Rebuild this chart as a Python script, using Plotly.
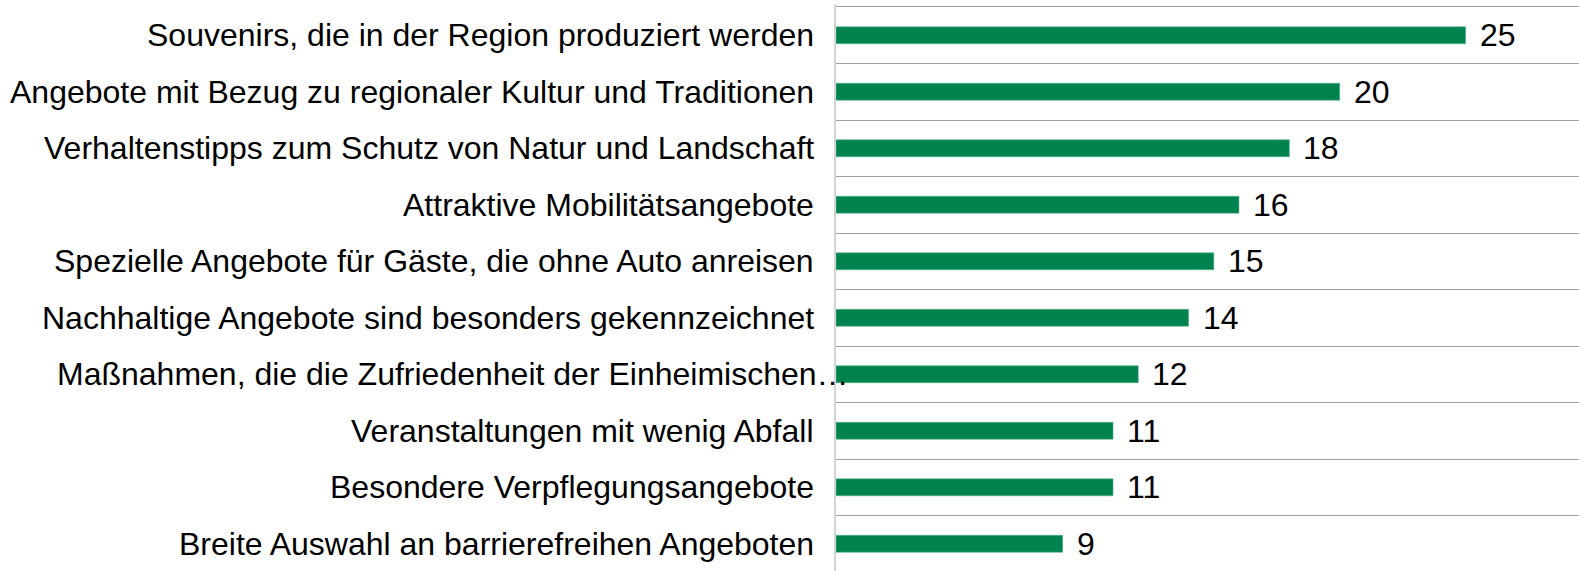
import plotly.graph_objects as go

categories = [
    "Souvenirs, die in der Region produziert werden",
    "Angebote mit Bezug zu regionaler Kultur und Traditionen",
    "Verhaltenstipps zum Schutz von Natur und Landschaft",
    "Attraktive Mobilitätsangebote",
    "Spezielle Angebote für Gäste, die ohne Auto anreisen",
    "Nachhaltige Angebote sind besonders gekennzeichnet",
    "Maßnahmen, die die Zufriedenheit der Einheimischen…",
    "Veranstaltungen mit wenig Abfall",
    "Besondere Verpflegungsangebote",
    "Breite Auswahl an barrierefreihen Angeboten",
]
values = [25, 20, 18, 16, 15, 14, 12, 11, 11, 9]

positions = list(range(len(categories)))
boundaries = [p - 0.5 for p in positions] + [len(categories) - 0.5]

FONT = "Liberation Sans, Arial, sans-serif"
GREEN = "#00834F"

fig = go.Figure()
fig.add_trace(go.Bar(
    x=values,
    y=positions,
    orientation="h",
    width=0.3,
    marker=dict(color=GREEN, line=dict(color="#5BB58C", width=0.6)),
    hoverinfo="skip",
))

annotations = []
for p, cat in zip(positions, categories):
    truncated = cat.endswith("…")
    annotations.append(dict(
        x=0, xref="paper", y=p, yref="y",
        text=cat, showarrow=False,
        xanchor="right", yanchor="middle",
        xshift=15 if truncated else -20,
        font=dict(family=FONT, size=32, color="#000000"),
    ))
for p, v in zip(positions, values):
    annotations.append(dict(
        x=v, xref="x", y=p, yref="y",
        text=str(v), showarrow=False,
        xanchor="left", yanchor="middle",
        xshift=12,
        font=dict(family=FONT, size=32, color="#000000"),
    ))

fig.update_layout(
    width=1579, height=571,
    margin=dict(l=836, r=0, t=4, b=0, autoexpand=False),
    paper_bgcolor="white", plot_bgcolor="white",
    showlegend=False,
    annotations=annotations,
    xaxis=dict(
        range=[0, 29.5], showgrid=False, zeroline=False,
        showticklabels=False, showline=False, fixedrange=True,
    ),
    yaxis=dict(
        range=[9.482, -0.553],
        tickmode="array", tickvals=boundaries,
        showticklabels=False, ticks="",
        showgrid=True, gridcolor="#A0A0A0", gridwidth=1,
        zeroline=False,
        showline=True, linecolor="#D4D4D4", linewidth=1.5,
        fixedrange=True,
    ),
)

fig.write_html(
    "out.html",
    config={"displayModeBar": False},
    post_script="document.body.style.margin='0';document.body.style.overflow='hidden';",
)
